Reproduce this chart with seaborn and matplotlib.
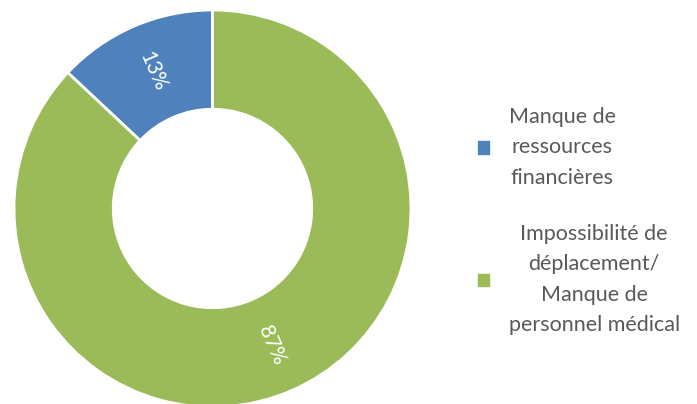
import math
import matplotlib
matplotlib.use("Agg")
import matplotlib.pyplot as plt
import seaborn as sns
from matplotlib.patches import Patch

sns.set_theme(style="white")
plt.rcParams['font.family'] = ['Lato', 'DejaVu Sans']

categories = ["Manque de\nressources\nfinancières",
              "Impossibilité de\ndéplacement/\nManque de\npersonnel médical"]
values = [13, 87]
pct_labels = ["13%", "87%"]
colors = ["#4F81BD", "#9BBB59"]

fig = plt.figure(figsize=(6.97, 4.04), dpi=100)
ax = fig.add_axes([14 / 697, -3 / 404, 397 / 697, 397 / 404])

wedges, _ = ax.pie(values, colors=colors, startangle=90, counterclock=True,
                   radius=1.0,
                   wedgeprops=dict(width=0.5, edgecolor="white", linewidth=2))
for w, lab in zip(wedges, pct_labels):
    theta = (w.theta1 + w.theta2) / 2
    r = 0.75
    x = r * math.cos(math.radians(theta))
    y = r * math.sin(math.radians(theta))
    rot = ((theta + 90) % 180) - 90
    ax.text(x, y, lab, ha="center", va="center", rotation=rot,
            rotation_mode="anchor", color="white", fontsize=15)
ax.set_xlim(-1, 1)
ax.set_ylim(-1, 1)
ax.set_aspect("equal")
ax.axis("off")

handles = [Patch(facecolor=c, edgecolor=c) for c in colors]
leg = fig.legend(handles, categories, loc="center left",
                 bbox_to_anchor=(459 / 697, 1 - 221 / 404),
                 frameon=False, fontsize=15.5, handlelength=0.5, handleheight=0.5,
                 handletextpad=0.9, labelspacing=1.7, labelcolor="#595959")
for t in leg.get_texts():
    t.set_multialignment("center")
    t.set_linespacing(1.65)

fig.savefig("out.png", dpi=100)
